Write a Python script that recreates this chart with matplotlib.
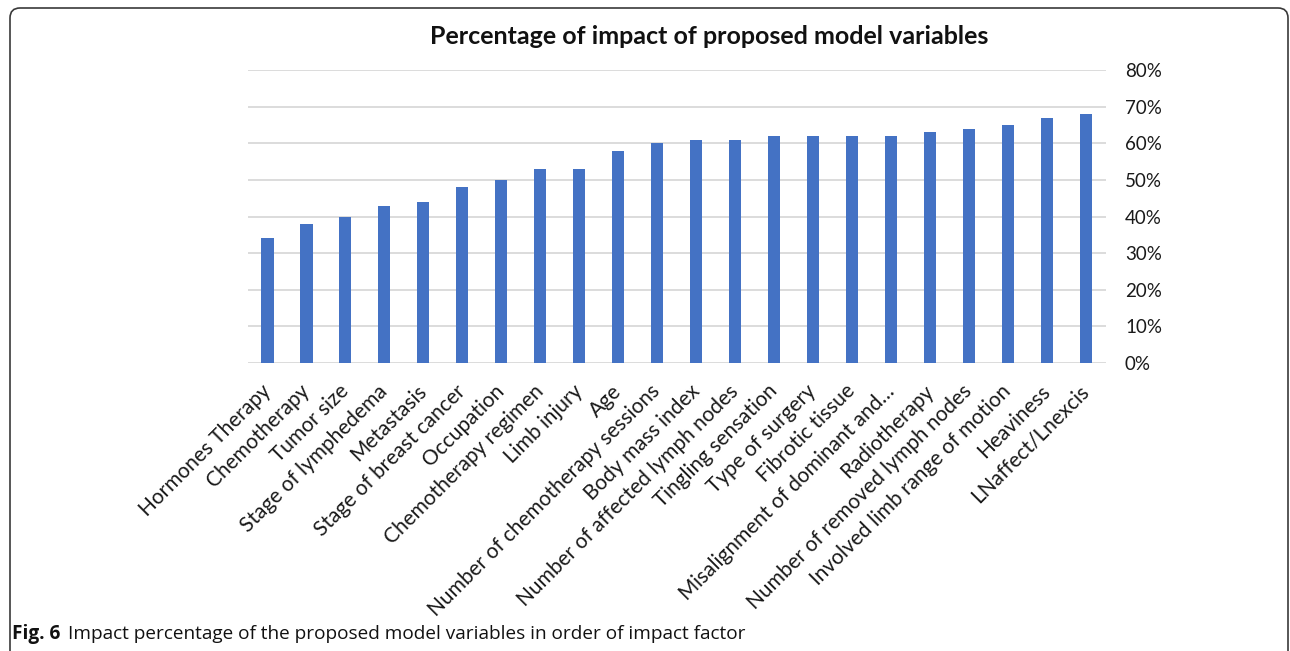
import matplotlib
matplotlib.use("Agg")
import matplotlib.pyplot as plt
from matplotlib.patches import FancyBboxPatch
from matplotlib.ticker import FuncFormatter, MultipleLocator

# Model variables, ordered by impact
variables = [
    "Hormones Therapy", "Chemotherapy", "Tumor size", "Stage of lymphedema",
    "Metastasis", "Stage of breast cancer", "Occupation", "Chemotherapy regimen",
    "Limb injury", "Age", "Number of chemotherapy sessions", "Body mass index",
    "Number of affected lymph nodes", "Tingling sensation", "Type of surgery",
    "Fibrotic tissue", "Misalignment of dominant and…", "Radiotherapy",
    "Number of removed lymph nodes", "Involved limb range of motion",
    "Heaviness", "LNaffect/Lnexcis",
]
impact_pct = [34, 38, 40, 43, 44, 48, 50, 53, 53, 58, 60, 61,
              61, 62, 62, 62, 62, 63, 64, 65, 67, 68]

title = "Percentage of impact of proposed model variables"
caption_bold = "Fig. 6"
caption_text = "Impact percentage of the proposed model variables in order of impact factor"

W, H, DPI = 1290, 651, 100
fig = plt.figure(figsize=(W / DPI, H / DPI), dpi=DPI)
fig.patch.set_facecolor("white")

# rounded outer frame (inch units), open at the bottom edge
frame = FancyBboxPatch((10 / DPI, -0.5), 1278 / DPI, (H - 8) / DPI + 0.5,
                       boxstyle="round,pad=0,rounding_size=0.1",
                       transform=fig.dpi_scale_trans, facecolor="none",
                       edgecolor="#3a3a3a", linewidth=1.2)
fig.patches.append(frame)

ax = fig.add_axes([248 / W, 1 - 363 / H, (1105.5 - 248) / W, (363 - 70) / H])
x = list(range(len(variables)))
ax.bar(x, impact_pct, width=0.31, color="#4472C4", zorder=3)

ax.set_xlim(-0.5, len(variables) - 0.5)
ax.set_ylim(0, 80)
ax.yaxis.set_major_locator(MultipleLocator(10))
ax.yaxis.set_major_formatter(FuncFormatter(lambda v, p: f"{v:.0f}%"))
ax.yaxis.tick_right()
ax.grid(axis="y", color="#d9d9d9", linewidth=1.3, zorder=0)
ax.set_axisbelow(True)
for s in ax.spines.values():
    s.set_visible(False)
ax.tick_params(axis="y", length=0, pad=14, labelsize=13.5, labelcolor="#1a1a1a")
ax.tick_params(axis="x", length=0, pad=18)
ax.set_xticks(x)
ax.set_xticklabels(variables, rotation=45, ha="right", va="center",
                   rotation_mode="anchor", fontsize=15, color="#1a1a1a")
for lab in ax.get_yticklabels() + ax.get_xticklabels():
    lab.set_family("Lato")

fig.text(709 / W, 1 - 36 / H, title, ha="center", va="center",
         fontsize=18, fontweight="bold", family="Lato", color="#111111")

cap_font = "Open Sans"
t1 = fig.text(12 / W, 1 - 634 / H, caption_bold, ha="left", va="center",
              fontsize=13.7, fontweight="bold", family=cap_font, color="#111111")
fig.canvas.draw()
bb = t1.get_window_extent()
fig.text((bb.x1 + 8) / W, 1 - 634 / H, caption_text, ha="left", va="center",
         fontsize=13.7, family=cap_font, color="#111111")

fig.savefig("out.png", dpi=DPI)
